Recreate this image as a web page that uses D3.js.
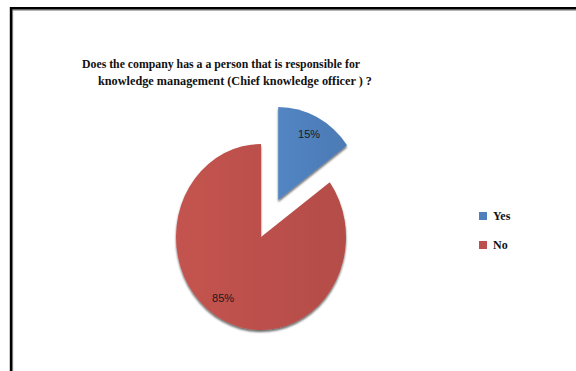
<!DOCTYPE html>
<html>
<head>
<meta charset="utf-8">
<script src="https://cdn.jsdelivr.net/npm/d3@7/dist/d3.min.js"></script>
<style>
  html, body { margin: 0; padding: 0; background: #fff; }
  svg { display: block; }
</style>
</head>
<body>
<svg id="chart" width="576" height="371"></svg>
<script>
// Survey answers
const categories = ["Yes", "No"];
const values = [15, 85];
const labels = ["15%", "85%"];
const colors = ["#4F7FBC", "#BC504C"];
const titleLines = [
  "Does the company has a a person that is responsible for",
  "knowledge management (Chief knowledge officer ) ?"
];

const svg = d3.select("#chart");
const W = 576, H = 371;

// Frame
svg.append("rect").attr("x", 0).attr("y", 0).attr("width", W).attr("height", H).attr("fill", "#fff");
svg.append("line").attr("x1", 10).attr("x2", W).attr("y1", 10.2).attr("y2", 10.2)
  .attr("stroke", "#9a9a9a").attr("stroke-width", 1.2);
svg.append("line").attr("x1", 12.6).attr("x2", 12.6).attr("y1", 8).attr("y2", H)
  .attr("stroke", "#9a9a9a").attr("stroke-width", 1.2);
svg.append("line").attr("x1", 10).attr("x2", W).attr("y1", 8.3).attr("y2", 8.3)
  .attr("stroke", "#000").attr("stroke-width", 2.6);
svg.append("line").attr("x1", 11).attr("x2", 11).attr("y1", 7).attr("y2", H)
  .attr("stroke", "#000").attr("stroke-width", 2.4);

// Title
const titleX = [82, 98], titleY = [68, 85], titleW = [278, 274];
titleLines.forEach((t, i) => {
  svg.append("text")
    .attr("x", titleX[i]).attr("y", titleY[i])
    .attr("font-family", "'Liberation Serif', 'Times New Roman', serif")
    .attr("font-weight", "bold")
    .attr("font-size", 12.5)
    .attr("textLength", titleW[i])
    .attr("lengthAdjust", "spacingAndGlyphs")
    .attr("fill", "#111")
    .text(t);
});

// Pie
const defs = svg.append("defs");
const shadow = defs.append("filter").attr("id", "shadow")
  .attr("x", "-20%").attr("y", "-20%").attr("width", "140%").attr("height", "140%");
shadow.append("feGaussianBlur").attr("in", "SourceAlpha").attr("stdDeviation", 1.2).attr("result", "b");
shadow.append("feOffset").attr("in", "b").attr("dx", 0).attr("dy", 1.6).attr("result", "o");
shadow.append("feComponentTransfer").attr("in", "o").attr("result", "s")
  .append("feFuncA").attr("type", "linear").attr("slope", 0.6);
const m = shadow.append("feMerge");
m.append("feMergeNode").attr("in", "s");
m.append("feMergeNode").attr("in", "SourceGraphic");

colors.forEach((c, i) => {
  const g = defs.append("linearGradient").attr("id", "grad" + i)
    .attr("x1", "0%").attr("x2", "100%").attr("y1", "0%").attr("y2", "0%");
  g.append("stop").attr("offset", "0%").attr("stop-color", d3.color(c).brighter(0.12));
  g.append("stop").attr("offset", "100%").attr("stop-color", d3.color(c).darker(0.12));
});

const cx = 261, cy = 237, r = 85, sy = 1.094, explode = 38;
const pie = d3.pie().sort(null).value(d => d)(values);
const arc = d3.arc().innerRadius(0).outerRadius(r);
const labelArc = d3.arc().innerRadius(r * 0.8).outerRadius(r * 0.8);

const offset = (d, i) => {
  if (i !== 0) return [0, 0];
  const a = (d.startAngle + d.endAngle) / 2;
  return [explode * Math.sin(a), -explode * Math.cos(a)];
};

const pieG = svg.append("g")
  .attr("transform", `translate(${cx},${cy}) scale(1,${sy})`)
  .attr("filter", "url(#shadow)");

pieG.selectAll("path").data(pie).join("path")
  .attr("d", arc)
  .attr("transform", (d, i) => { const o = offset(d, i); return `translate(${o[0]},${o[1]})`; })
  .attr("fill", (d, i) => `url(#grad${i})`);

// Slice labels (placed in unscaled space so text is not stretched)
svg.selectAll("text.lbl").data(pie).join("text")
  .attr("class", "lbl")
  .attr("x", (d, i) => cx + labelArc.centroid(d)[0] + offset(d, i)[0] + (i === 1 ? -7 : 0))
  .attr("y", (d, i) => cy + (labelArc.centroid(d)[1] + offset(d, i)[1]) * sy + (i === 1 ? -5 : 0))
  .attr("text-anchor", "middle")
  .attr("dominant-baseline", "central")
  .attr("font-family", "'Liberation Sans', Arial, sans-serif")
  .attr("font-size", 11)
  .attr("fill", "#1c1818")
  .text((d, i) => labels[i]);

// Legend
const legend = svg.append("g");
categories.forEach((c, i) => {
  const y = 212 + i * 29;
  legend.append("rect").attr("x", 479).attr("y", y).attr("width", 8).attr("height", 8)
    .attr("fill", colors[i]);
  legend.append("text").attr("x", 493).attr("y", y + 8)
    .attr("font-family", "'Liberation Serif', 'Times New Roman', serif")
    .attr("font-weight", "bold")
    .attr("font-size", 12)
    .attr("fill", "#111")
    .text(c);
});
</script>
</body>
</html>
